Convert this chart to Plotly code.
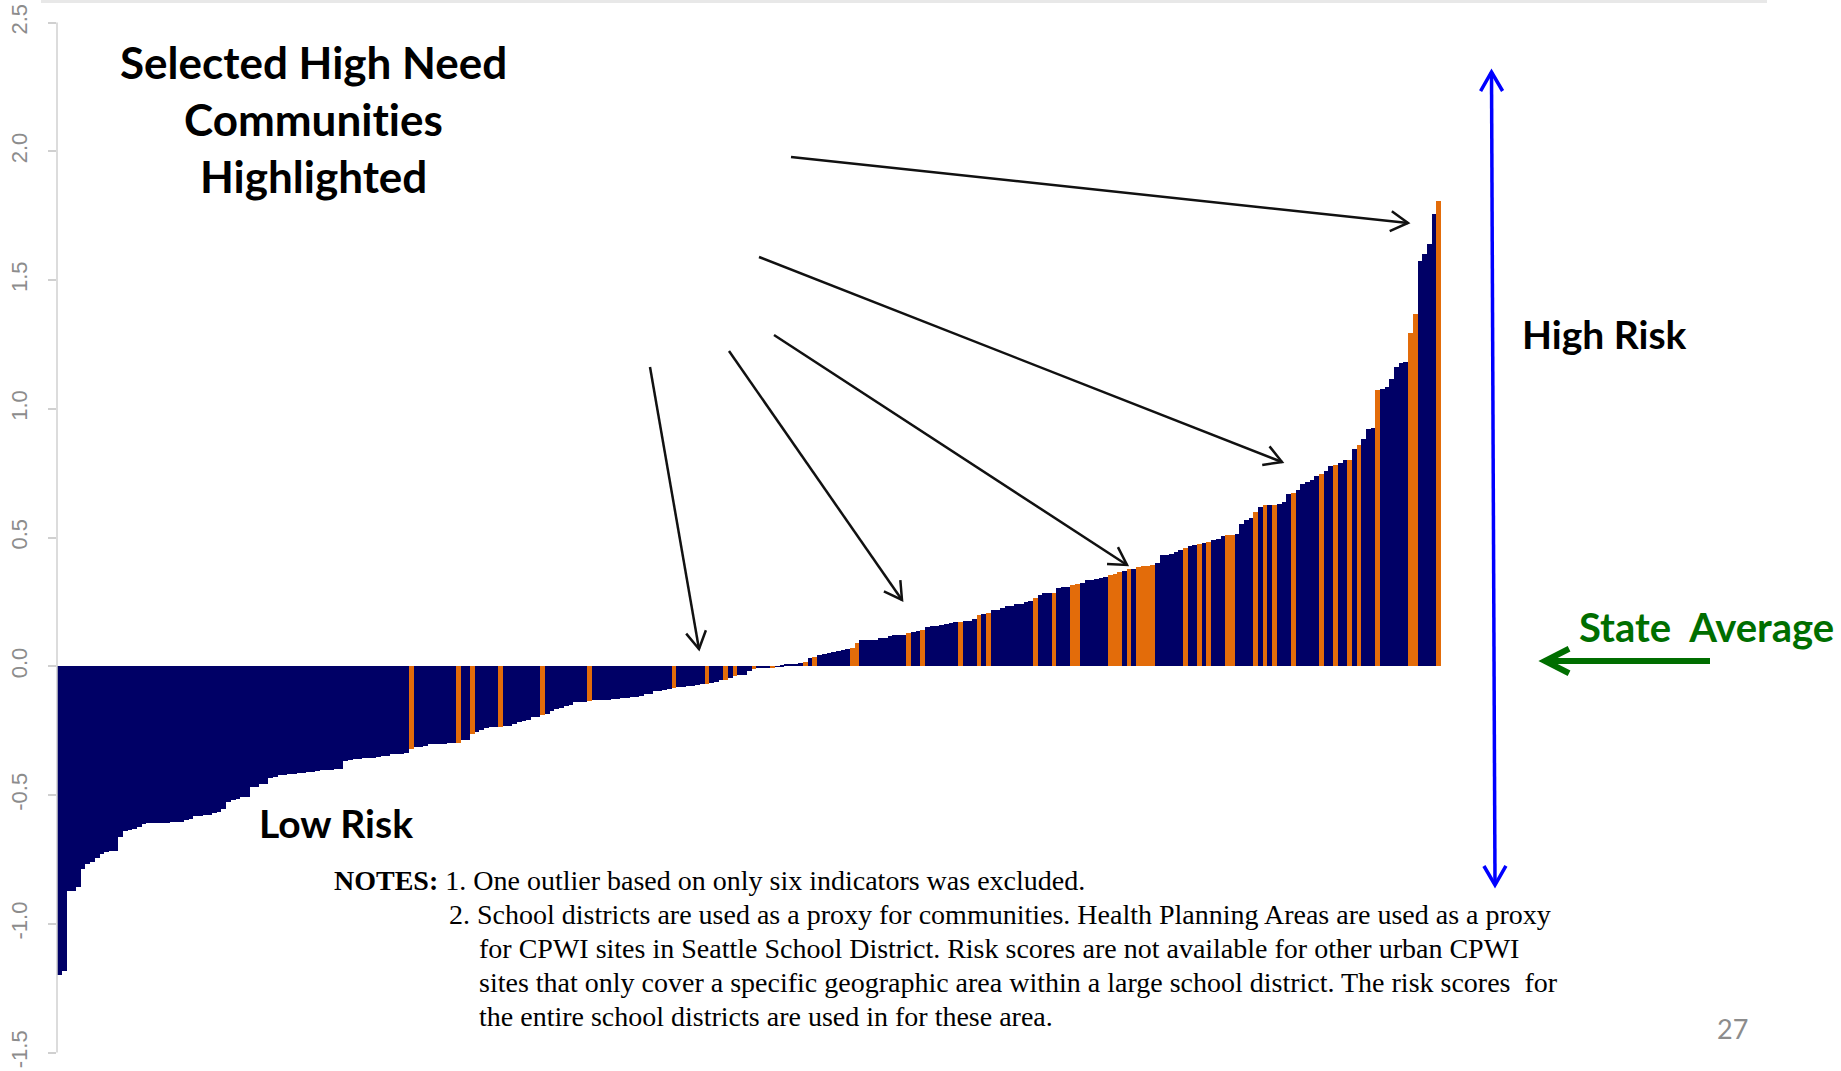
import math
import plotly.graph_objects as go

# ---------------- data ----------------
# risk scores of the communities, sorted from lowest to highest risk
scores_below_avg = [
    -1.200, -1.184, -0.874, -0.872, -0.857, -0.786, -0.768, -0.760, -0.743, -0.728,
    -0.720, -0.718, -0.717, -0.663, -0.641, -0.635, -0.632, -0.624, -0.612, -0.610,
    -0.609, -0.608, -0.608, -0.607, -0.606, -0.604, -0.603, -0.596, -0.594, -0.582,
    -0.580, -0.579, -0.577, -0.568, -0.565, -0.553, -0.527, -0.520, -0.517, -0.509,
    -0.506, -0.470, -0.468, -0.459, -0.456, -0.434, -0.431, -0.424, -0.422, -0.418,
    -0.417, -0.416, -0.415, -0.411, -0.409, -0.405, -0.404, -0.403, -0.401, -0.400,
    -0.399, -0.366, -0.364, -0.360, -0.359, -0.358, -0.357, -0.356, -0.351, -0.350,
    -0.349, -0.341, -0.340, -0.339, -0.338, -0.320, -0.313, -0.312, -0.311, -0.303,
    -0.302, -0.301, -0.300, -0.299, -0.298, -0.298, -0.287, -0.286, -0.264, -0.255,
    -0.249, -0.238, -0.237, -0.236, -0.236, -0.233, -0.232, -0.225, -0.216, -0.214,
    -0.207, -0.197, -0.196, -0.188, -0.184, -0.173, -0.164, -0.162, -0.155, -0.149,
    -0.139, -0.138, -0.137, -0.136, -0.132, -0.131, -0.130, -0.129, -0.128, -0.126,
    -0.125, -0.124, -0.119, -0.118, -0.117, -0.109, -0.108, -0.097, -0.096, -0.091,
    -0.089, -0.084, -0.080, -0.079, -0.076, -0.075, -0.071, -0.070, -0.067, -0.063,
    -0.062, -0.054, -0.052, -0.044, -0.039, -0.035, -0.034, -0.018, -0.012, -0.006,
    -0.005, -0.004, -0.003,
]
scores_above_avg = [
    0.001, 0.002, 0.008, 0.009, 0.010, 0.011, 0.017, 0.032, 0.036, 0.043,
    0.047, 0.052, 0.056, 0.060, 0.065, 0.066, 0.071, 0.091, 0.101, 0.101,
    0.104, 0.104, 0.111, 0.111, 0.117, 0.120, 0.120, 0.121, 0.129, 0.132,
    0.137, 0.142, 0.153, 0.158, 0.158, 0.161, 0.163, 0.168, 0.171, 0.172,
    0.176, 0.176, 0.183, 0.198, 0.202, 0.207, 0.217, 0.217, 0.228, 0.233,
    0.235, 0.241, 0.243, 0.250, 0.252, 0.265, 0.278, 0.285, 0.285, 0.285,
    0.304, 0.308, 0.308, 0.315, 0.321, 0.324, 0.334, 0.337, 0.340, 0.344,
    0.347, 0.353, 0.360, 0.366, 0.370, 0.377, 0.377, 0.386, 0.389, 0.390,
    0.392, 0.401, 0.431, 0.432, 0.435, 0.444, 0.450, 0.460, 0.466, 0.470,
    0.476, 0.480, 0.484, 0.489, 0.496, 0.506, 0.509, 0.510, 0.513, 0.554,
    0.567, 0.577, 0.599, 0.619, 0.625, 0.625, 0.625, 0.632, 0.638, 0.671,
    0.674, 0.683, 0.709, 0.716, 0.722, 0.738, 0.748, 0.759, 0.777, 0.781,
    0.790, 0.800, 0.800, 0.845, 0.858, 0.884, 0.923, 0.927, 1.074, 1.078,
    1.085, 1.117, 1.162, 1.178, 1.182, 1.294, 1.370, 1.574, 1.603, 1.641,
    1.758, 1.807,
]
# ranks (0-based) of the selected high need communities (orange bars)
highlighted_ranks = [
    75, 85, 88, 94, 103, 113, 131, 138, 142, 144, 148, 152, 159, 161, 169, 170,
    181, 184, 192, 196, 198, 208, 212, 216, 217, 224, 225, 226, 228, 230, 231,
    232, 233, 240, 243, 245, 249, 250, 255, 257, 259, 263, 269, 272, 275, 277,
    281, 288, 289, 294,
]
y_tick_values = [-1.5, -1.0, -0.5, 0.0, 0.5, 1.0, 1.5, 2.0, 2.5]
y_tick_labels = ["-1.5", "-1.0", "-0.5", "0.0", "0.5", "1.0", "1.5", "2.0", "2.5"]

# ---------------- styling / layout constants ----------------
NAVY = "#000066"
ORANGE = "#E36C0A"
GREEN = "#006E00"
BLUE = "#0000FF"
GREY_TXT = "#8C8C8C"
AXIS_GREY = "#D0D0D0"

W, H = 1841, 1071
ML = 57                 # left margin (px) = y axis position
PX_BARS_START = 57.3
PX_BARS_END = 1441.0
ZERO_PX = 666.3         # pixel row of value 0
PX_PER_UNIT = 257.5

scores = scores_below_avg + scores_above_avg
n = len(scores)
ranks = list(range(n))
hl = set(highlighted_ranks)
colors = [ORANGE if r in hl else NAVY for r in ranks]

bar_px = (PX_BARS_END - PX_BARS_START) / n
x_lo = -0.5 - (PX_BARS_START - ML) / bar_px
x_hi = x_lo + (W - ML) / bar_px
y_hi = ZERO_PX / PX_PER_UNIT
y_lo = (ZERO_PX - H) / PX_PER_UNIT


def paper(xp, yp):
    return (xp - ML) / (W - ML), 1 - yp / H


def arrow_shapes(tail, head, color, width, head_len, half_deg, both=False):
    out = []
    a0, b0 = paper(*tail)
    a1, b1 = paper(*head)
    out.append(dict(type="line", xref="paper", yref="paper", x0=a0, y0=b0, x1=a1, y1=b1,
                    line=dict(color=color, width=width)))
    ends = [(head, tail)] + ([(tail, head)] if both else [])
    for tip, frm in ends:
        dx, dy = frm[0] - tip[0], frm[1] - tip[1]
        d = math.hypot(dx, dy)
        ux, uy = dx / d, dy / d
        pts = []
        for s in (1, -1):
            a = math.radians(half_deg) * s
            rx = ux * math.cos(a) - uy * math.sin(a)
            ry = ux * math.sin(a) + uy * math.cos(a)
            pts.append(paper(tip[0] + rx * head_len, tip[1] + ry * head_len))
        tp = paper(*tip)
        path = "M {:.6f},{:.6f} L {:.6f},{:.6f} L {:.6f},{:.6f}".format(
            pts[0][0], pts[0][1], tp[0], tp[1], pts[1][0], pts[1][1])
        out.append(dict(type="path", xref="paper", yref="paper", path=path,
                        line=dict(color=color, width=width)))
    return out


fig = go.Figure()
fig.add_trace(go.Bar(x=ranks, y=scores, marker=dict(color=colors, line=dict(width=0)),
                     width=1.0, showlegend=False, hoverinfo="skip"))

shapes = []
# y axis line (only spanning the tick range)
shapes.append(dict(type="line", xref="paper", yref="y", x0=0, x1=0, y0=-1.5, y1=2.5,
                   line=dict(color=AXIS_GREY, width=1.5)))
# slide top shadow
sx0, sy0 = paper(41, 0)
sx1, sy1 = paper(1767, 3)
shapes.append(dict(type="rect", xref="paper", yref="paper", x0=sx0, x1=sx1, y0=sy1, y1=sy0,
                   fillcolor="#E8E8E8", line=dict(width=0), layer="below"))

black_arrows = [
    ((791, 157), (1408, 223)),
    ((759, 257), (1282, 462)),
    ((774, 335), (1127, 565)),
    ((729, 351), (902, 600)),
    ((650, 367), (699, 649)),
]
for t, h in black_arrows:
    shapes += arrow_shapes(t, h, "#111111", 2.5, 20, 30)
shapes += arrow_shapes((1495, 885), (1491.5, 72), BLUE, 3.5, 22, 30, both=True)
shapes += arrow_shapes((1710, 661), (1545, 661), GREEN, 6, 27, 27)

annotations = []


def text(s, xp, yp, size, family="Lato", color="black", xanchor="left"):
    a, b = paper(xp, yp)
    annotations.append(dict(text=s, x=a, y=b, xref="paper", yref="paper", showarrow=False,
                            xanchor=xanchor, yanchor="middle", borderpad=0,
                            font=dict(family=family, size=size, color=color)))


ZWNJ = "\u200c"  # keeps the browser from forming the "ti" ligature
for line, yy in zip(["Selected High Need", "Communit" + ZWNJ + "ies", "Highlighted"], [62, 119, 176]):
    text("<b>%s</b>" % line, 313.5, yy, 44, xanchor="center")
text("<b>High Risk</b>", 1521, 334, 39)
text("<b>Low Risk</b>", 258, 823, 39)
text("<b>State&nbsp; Average</b>", 1578, 627, 40, color=GREEN)
text("27", 1732, 1028, 27, color=GREY_TXT, xanchor="center")

serif = "Liberation Serif"
text("<b>NOTES:</b> 1. One outlier based on only six indicators was excluded.", 333, 880, 28, serif)
text("2. School districts are used as a proxy for communities. Health Planning Areas are used as a proxy",
     448, 914, 28, serif)
text("for CPWI sites in Seattle School District. Risk scores are not available for other urban CPWI",
     478, 948, 28, serif)
text("sites that only cover a specific geographic area within a large school district. The risk scores&nbsp; for",
     478, 982, 28, serif)
text("the entire school districts are used in for these area.", 478, 1016, 28, serif)

fig.update_layout(
    width=W, height=H,
    margin=dict(l=ML, r=0, t=0, b=0, pad=0),
    paper_bgcolor="white", plot_bgcolor="white",
    bargap=0, showlegend=False,
    xaxis=dict(range=[x_lo, x_hi], visible=False, fixedrange=True),
    yaxis=dict(range=[y_lo, y_hi], tickvals=y_tick_values, ticktext=y_tick_labels,
               tickangle=-90, ticks="outside", ticklen=8, tickwidth=1.5, tickcolor=AXIS_GREY,
               tickfont=dict(family="Liberation Sans", size=22, color=GREY_TXT),
               showgrid=False, zeroline=False, showline=False, automargin=False,
               ticklabelstandoff=12, fixedrange=True),
    shapes=shapes,
    annotations=annotations,
)

fig.write_html("out.html")
